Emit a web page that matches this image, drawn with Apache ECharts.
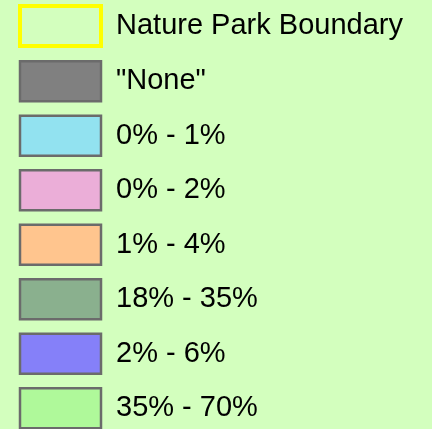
<!DOCTYPE html>
<html>
<head>
<meta charset="utf-8">
<script src="https://cdn.jsdelivr.net/npm/echarts@6/dist/echarts.min.js"></script>
<style>
html,body{margin:0;padding:0;background:#D3FFBE;}
#chart{width:432px;height:429px;}
</style>
</head>
<body>
<div id="chart"></div>
<script>
var categories = ["Nature Park Boundary", "\"None\"", "0% - 1%", "0% - 2%", "1% - 4%", "18% - 35%", "2% - 6%", "35% - 70%"];
var fillColors = ["rgba(0,0,0,0)", "#808080", "#92E2F0", "#EBAED8", "#FFC58E", "#8AB08E", "#8580F9", "#AFF99A"];
var borderColors = ["#FFFF00", "#6B6B6B", "#6B6B6B", "#6B6B6B", "#6B6B6B", "#6B6B6B", "#6B6B6B", "#6B6B6B"];
var borderWidths = [4, 2.5, 2.5, 2.5, 2.5, 2.5, 2.5, 2.5];

var chart = echarts.init(document.getElementById('chart'), null, {renderer: 'canvas'});
var series = categories.map(function (name, i) {
  return {
    name: name,
    type: 'bar',
    data: [],
    itemStyle: {color: fillColors[i], borderColor: borderColors[i], borderWidth: borderWidths[i]}
  };
});
var legendData = categories.map(function (name, i) {
  return {
    name: name,
    icon: 'rect',
    itemStyle: {color: fillColors[i], borderColor: borderColors[i], borderWidth: borderWidths[i]}
  };
});
chart.setOption({
  backgroundColor: '#D3FFBE',
  animation: false,
  xAxis: {show: false, type: 'category', data: []},
  yAxis: {show: false, type: 'value'},
  grid: {left: 0, right: 0, top: 0, bottom: 0},
  legend: {
    orient: 'vertical',
    left: 18,
    top: 4,
    height: 600,
    padding: 0,
    itemWidth: 81,
    itemHeight: 40,
    itemGap: 12,
    selectedMode: false,
    data: legendData,
    textStyle: {
      color: '#000',
      fontSize: 29,
      fontFamily: '"Liberation Sans", Arial, sans-serif',
      padding: [0, 0, 0, 10]
    }
  },
  series: series
});
</script>
</body>
</html>
